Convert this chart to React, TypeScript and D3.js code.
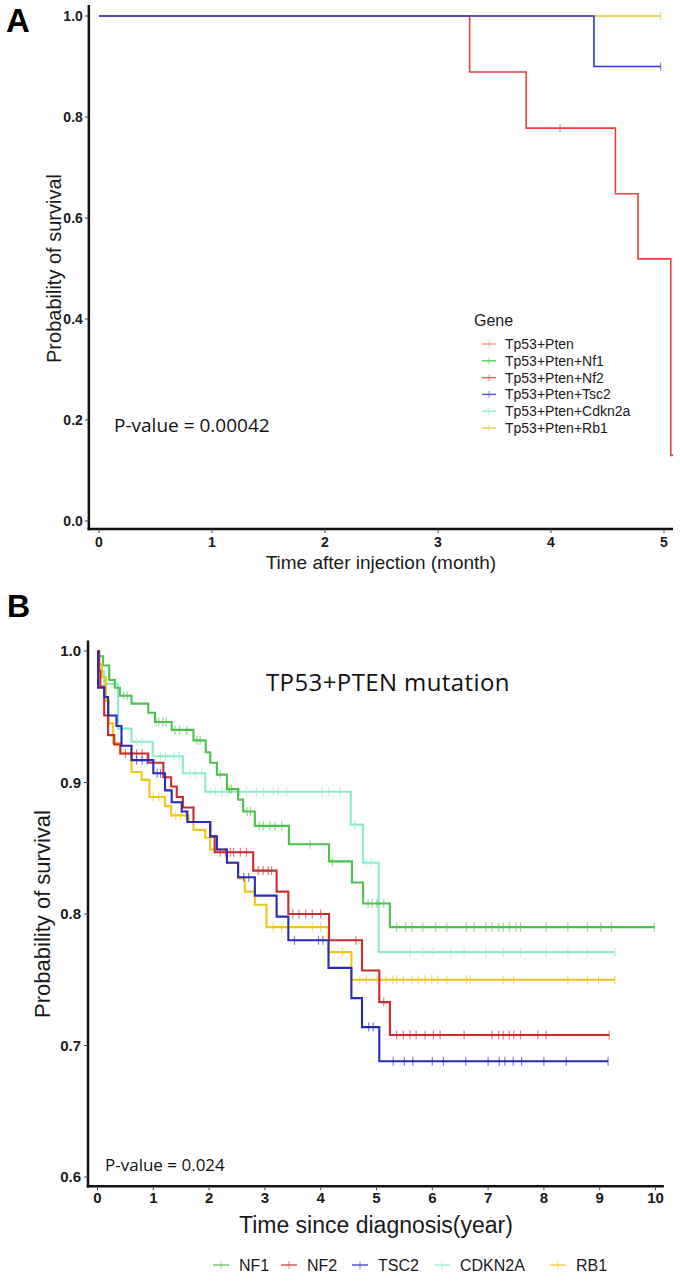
import React from 'react';
import * as d3 from 'd3';

// ---- panel A : mouse model, months after injection ----
const GENES_A = [
  "Tp53+Pten",
  "Tp53+Pten+Nf1",
  "Tp53+Pten+Nf2",
  "Tp53+Pten+Tsc2",
  "Tp53+Pten+Cdkn2a",
  "Tp53+Pten+Rb1",
];
const COLORS_A = ["#F4846A", "#3DCB3D", "#E8403F", "#3434D6", "#6FF2C6", "#E3C72E"];

// [time, survival after drop]
const A_NF2_STEPS = [[3.28, 0.889], [3.78, 0.778], [4.57, 0.648], [4.77, 0.519], [5.06, 0.13]];
const A_NF2_CENSOR = [4.08];
const A_NF2_END = 5.1;
const A_TSC2_STEPS = [[4.38, 0.9]];
const A_TSC2_CENSOR = [4.97];
const A_TSC2_END = 4.97;
const A_RB1_STEPS: number[][] = [];
const A_RB1_CENSOR = [4.97];
const A_RB1_END = 4.97;

const A_X_TICKS = [0, 1, 2, 3, 4, 5];
const A_Y_TICKS = [0, 0.2, 0.4, 0.6, 0.8, 1.0];

// ---- panel B : patients, years since diagnosis ----
const GENES_B = ["NF1", "NF2", "TSC2", "CDKN2A", "RB1"];
const COLORS_B = ["#4CC24C", "#CC2B2B", "#2A2AB8", "#8DEBD2", "#F0C618"];

const B_NF1_STEPS = [[0.02, 0.996], [0.10, 0.989], [0.21, 0.978], [0.31, 0.972], [0.40, 0.966], [0.61, 0.960], [0.91, 0.953], [1.03, 0.946], [1.33, 0.940], [1.72, 0.932], [1.94, 0.923], [2.02, 0.915], [2.14, 0.906], [2.32, 0.895], [2.52, 0.887], [2.61, 0.878], [2.82, 0.867], [3.43, 0.853], [4.15, 0.840], [4.56, 0.824], [4.76, 0.808], [5.24, 0.790]];
const B_NF1_CENSOR = [0.47, 0.53, 1.05, 1.1, 1.17, 1.23, 1.39, 1.47, 1.6, 1.78, 1.84, 2.2, 2.36, 2.4, 2.68, 2.74, 2.9, 2.97, 3.09, 3.18, 3.3, 3.81, 4.21, 4.85, 4.92, 5.01, 5.13, 5.36, 5.52, 5.64, 5.83, 6.06, 6.26, 6.61, 6.75, 6.96, 7.07, 7.19, 7.27, 7.38, 7.5, 7.58, 8.04, 8.43, 8.78, 9.02, 9.21, 9.98];
const B_NF1_END = 9.98;

const B_NF2_STEPS = [[0.03, 0.985], [0.05, 0.973], [0.12, 0.951], [0.19, 0.936], [0.30, 0.929], [0.41, 0.922], [0.91, 0.915], [1.18, 0.904], [1.32, 0.897], [1.42, 0.889], [1.53, 0.881], [1.72, 0.870], [2.02, 0.859], [2.10, 0.847], [2.79, 0.833], [3.21, 0.817], [3.42, 0.800], [4.15, 0.780], [4.74, 0.757], [5.05, 0.733], [5.24, 0.708]];
const B_NF2_CENSOR = [0.5, 0.6, 0.7, 0.8, 2.2, 2.29, 2.38, 2.44, 2.56, 2.67, 2.88, 2.97, 3.06, 3.12, 3.5, 3.61, 3.73, 3.85, 4.0, 4.63, 5.13, 5.36, 5.48, 5.6, 5.71, 5.87, 6.02, 6.14, 6.57, 7.07, 7.19, 7.27, 7.38, 7.46, 7.58, 7.89, 8.04, 9.17];
const B_NF2_END = 9.17;

const B_TSC2_STEPS = [[0.01, 0.972], [0.12, 0.965], [0.19, 0.951], [0.34, 0.943], [0.43, 0.928], [0.61, 0.917], [1.0, 0.907], [1.21, 0.894], [1.33, 0.885], [1.51, 0.878], [1.61, 0.870], [2.02, 0.859], [2.14, 0.849], [2.32, 0.839], [2.52, 0.828], [2.82, 0.814], [3.21, 0.798], [3.42, 0.780], [4.14, 0.759], [4.55, 0.736], [4.74, 0.714], [5.05, 0.688]];
const B_TSC2_CENSOR = [0.7, 0.8, 0.89, 1.07, 1.13, 2.62, 2.71, 3.53, 3.96, 4.04, 4.86, 4.94, 5.3, 5.5, 5.65, 6.0, 6.2, 6.6, 7.0, 7.2, 7.3, 7.45, 7.6, 8.0, 8.4, 9.15];
const B_TSC2_END = 9.15;

const B_CDKN2A_STEPS = [[0.03, 0.985], [0.12, 0.975], [0.37, 0.941], [0.61, 0.931], [0.99, 0.920], [1.53, 0.907], [1.93, 0.893], [4.54, 0.868], [4.76, 0.839], [5.04, 0.771]];
const B_CDKN2A_CENSOR = [0.7, 0.8, 1.13, 1.22, 1.37, 1.46, 1.66, 1.75, 1.87, 2.02, 2.11, 2.23, 2.32, 2.55, 2.67, 2.85, 2.97, 3.15, 3.24, 3.39, 4.02, 4.14, 4.35, 4.61, 4.82, 4.91, 5.6, 5.83, 6.02, 6.33, 6.57, 6.96, 7.27, 7.58, 8.04, 8.43, 8.78, 9.27];
const B_CDKN2A_END = 9.27;

const B_RB1_STEPS = [[0.02, 0.99], [0.08, 0.98], [0.15, 0.962], [0.2, 0.945], [0.28, 0.930], [0.40, 0.922], [0.61, 0.908], [0.79, 0.902], [0.93, 0.889], [1.21, 0.882], [1.32, 0.875], [1.63, 0.870], [1.72, 0.864], [1.93, 0.858], [2.02, 0.849], [2.32, 0.839], [2.52, 0.827], [2.64, 0.817], [2.82, 0.807], [3.03, 0.790], [4.14, 0.771], [4.55, 0.750]];
const B_RB1_CENSOR = [1.0, 1.1, 1.4, 1.49, 1.58, 3.15, 3.3, 3.85, 4.0, 4.39, 4.7, 4.82, 5.01, 5.17, 5.29, 5.36, 5.48, 5.64, 5.75, 5.87, 5.99, 6.1, 6.26, 6.61, 6.68, 7.27, 7.46, 8.43, 8.78, 8.98, 9.27];
const B_RB1_END = 9.27;

const B_X_TICKS = [0, 1, 2, 3, 4, 5, 6, 7, 8, 9, 10];
const B_Y_TICKS = [0.6, 0.7, 0.8, 0.9, 1.0];

const SANS = "'Liberation Sans', Arial, sans-serif";
const SOFT = "'Open Sans', 'Noto Sans', sans-serif";

type Curve = { steps: number[][]; censor: number[]; end: number; color: string };

function survAt(steps: number[][], t: number) {
  let s = 1;
  steps.forEach(d => { if (d[0] <= t) s = d[1]; });
  return s;
}

function stepPoints(c: Curve) {
  const pts: number[][] = [[0, 1], ...c.steps];
  pts.push([c.end, survAt(c.steps, c.end)]);
  return pts;
}

function KMCurves({ curves, x, y, width, tick }: any) {
  const line = d3.line<number[]>()
    .x(d => x(d[0]))
    .y(d => y(d[1]))
    .curve(d3.curveStepAfter);
  return (
    <g>
      {curves.map((c: Curve, i: number) => (
        <g key={'c' + i}>
          <path d={line(stepPoints(c)) || ''} fill="none" stroke={c.color} strokeWidth={width} />
          {c.censor.map((t, j) => {
            const cx = x(t);
            const cy = y(survAt(c.steps, t));
            return <line key={j} x1={cx} x2={cx} y1={cy - tick} y2={cy + tick}
              stroke={c.color} strokeWidth={1.2} strokeOpacity={0.6} />;
          })}
        </g>
      ))}
    </g>
  );
}

function PanelA() {
  const x = d3.scaleLinear().domain([0, 5]).range([99, 664]);
  const y = d3.scaleLinear().domain([0, 1]).range([521, 16]);
  const x0 = x(-0.09), x1 = x(5.08);
  const y0 = y(-0.016), y1 = y(1.022);
  const curves: Curve[] = [
    { steps: A_RB1_STEPS, censor: A_RB1_CENSOR, end: A_RB1_END, color: COLORS_A[5] },
    { steps: A_NF2_STEPS, censor: A_NF2_CENSOR, end: A_NF2_END, color: COLORS_A[2] },
    { steps: A_TSC2_STEPS, censor: A_TSC2_CENSOR, end: A_TSC2_END, color: COLORS_A[3] },
  ];
  return (
    <g>
      <defs>
        <clipPath id="clipA"><rect x={x0} y={0} width={x1 - x0} height={y0} /></clipPath>
      </defs>
      <text x={6} y={32} fontFamily={SANS} fontWeight="bold" fontSize={33}>A</text>
      <g clipPath="url(#clipA)">
        <KMCurves curves={curves} x={x} y={y} width={1.6} tick={4} />
      </g>
      {/* axes */}
      <line x1={x0} x2={x0} y1={y1} y2={y0 + 1.2} stroke="#111" strokeWidth={2.5} />
      <line x1={x0 - 1.2} x2={x1} y1={y0} y2={y0} stroke="#111" strokeWidth={2.5} />
      {A_Y_TICKS.map(v => (
        <g key={'ya' + v}>
          <line x1={x0 - 4} x2={x0} y1={y(v)} y2={y(v)} stroke="#444" strokeWidth={1} />
          <text x={x0 - 6} y={y(v)} dy="0.36em" textAnchor="end" fontFamily={SANS}
            fontWeight="bold" fontSize={14} fill="#1a1a1a">{d3.format('.1f')(v)}</text>
        </g>
      ))}
      {A_X_TICKS.map(v => (
        <g key={'xa' + v}>
          <line x1={x(v)} x2={x(v)} y1={y0} y2={y0 + 4} stroke="#444" strokeWidth={1} />
          <text x={x(v)} y={y0 + 13} dy="0.36em" textAnchor="middle" fontFamily={SANS}
            fontWeight="bold" fontSize={14} fill="#1a1a1a">{v}</text>
        </g>
      ))}
      <text x={(x0 + x1) / 2} y={569} textAnchor="middle" fontFamily={SANS} fontSize={19}
        fill="#1a1a1a">Time after injection (month)</text>
      <text transform={`translate(61,${(y(0) + y(1)) / 2})rotate(-90)`} textAnchor="middle"
        fontFamily={SANS} fontSize={20} fill="#1a1a1a">Probability of survival</text>
      <text x={114} y={425} dy="0.36em" fontFamily={SOFT} fontSize={19} fill="#111">P-value = 0.00042</text>
      {/* legend */}
      <text x={474} y={326} fontFamily={SANS} fontSize={16} fill="#1a1a1a">Gene</text>
      {GENES_A.map((g, i) => {
        const ly = 344 + i * 16.8;
        return (
          <g key={g}>
            <line x1={482} x2={496} y1={ly} y2={ly} stroke={COLORS_A[i]} strokeWidth={1.4} strokeOpacity={0.85} />
            <line x1={489} x2={489} y1={ly - 3.5} y2={ly + 3.5} stroke={COLORS_A[i]} strokeWidth={1} strokeOpacity={0.6} />
            <text x={505} y={ly} dy="0.36em" fontFamily={SANS} fontSize={14} fill="#1a1a1a">{g}</text>
          </g>
        );
      })}
    </g>
  );
}

function PanelB() {
  const x = d3.scaleLinear().domain([0, 10]).range([97.5, 655.5]);
  const y = d3.scaleLinear().domain([0.6, 1]).range([1177, 651]);
  const x0 = x(-0.17), x1 = x(10.15);
  const y0 = y(0.593), y1 = y(1.008);
  const curves: Curve[] = [
    { steps: B_CDKN2A_STEPS, censor: B_CDKN2A_CENSOR, end: B_CDKN2A_END, color: COLORS_B[3] },
    { steps: B_NF1_STEPS, censor: B_NF1_CENSOR, end: B_NF1_END, color: COLORS_B[0] },
    { steps: B_RB1_STEPS, censor: B_RB1_CENSOR, end: B_RB1_END, color: COLORS_B[4] },
    { steps: B_NF2_STEPS, censor: B_NF2_CENSOR, end: B_NF2_END, color: COLORS_B[1] },
    { steps: B_TSC2_STEPS, censor: B_TSC2_CENSOR, end: B_TSC2_END, color: COLORS_B[2] },
  ];
  const legendX = [213, 281, 352, 434, 550];
  return (
    <g>
      <text x={7} y={617} fontFamily={SANS} fontWeight="bold" fontSize={32}>B</text>
      <KMCurves curves={curves} x={x} y={y} width={2.1} tick={4.5} />
      <line x1={x0} x2={x0} y1={y1} y2={y0 + 1.2} stroke="#111" strokeWidth={2.5} />
      <line x1={x0 - 1.2} x2={x1} y1={y0} y2={y0} stroke="#111" strokeWidth={2.5} />
      {B_Y_TICKS.map(v => (
        <g key={'yb' + v}>
          <line x1={x0 - 4} x2={x0} y1={y(v)} y2={y(v)} stroke="#444" strokeWidth={1} />
          <text x={x0 - 7} y={y(v)} dy="0.36em" textAnchor="end" fontFamily={SANS}
            fontWeight="bold" fontSize={15} fill="#1a1a1a">{d3.format('.1f')(v)}</text>
        </g>
      ))}
      {B_X_TICKS.map(v => (
        <g key={'xb' + v}>
          <line x1={x(v)} x2={x(v)} y1={y0} y2={y0 + 4} stroke="#444" strokeWidth={1} />
          <text x={x(v)} y={1198} dy="0.36em" textAnchor="middle" fontFamily={SANS}
            fontWeight="bold" fontSize={15} fill="#1a1a1a">{v}</text>
        </g>
      ))}
      <text x={(x0 + x1) / 2} y={1233} textAnchor="middle" fontFamily={SANS} fontSize={23}
        fill="#1a1a1a">Time since diagnosis(year)</text>
      <text transform={`translate(50,${(y(0.6) + y(1)) / 2})rotate(-90)`} textAnchor="middle"
        fontFamily={SANS} fontSize={22} fill="#1a1a1a">Probability of survival</text>
      <text x={266} y={682} dy="0.36em" fontFamily={SOFT} fontSize={24} letterSpacing={0.4}
        fill="#111">TP53+PTEN  mutation</text>
      <text x={105} y={1165} dy="0.36em" fontFamily={SOFT} fontSize={17} fill="#111">P-value = 0.024</text>
      {GENES_B.map((g, i) => {
        const lx = legendX[i];
        const ly = 1265;
        return (
          <g key={g}>
            <line x1={lx} x2={lx + 16} y1={ly} y2={ly} stroke={COLORS_B[i]} strokeWidth={1.4} strokeOpacity={0.85} />
            <line x1={lx + 8} x2={lx + 8} y1={ly - 4} y2={ly + 4} stroke={COLORS_B[i]} strokeWidth={1} strokeOpacity={0.6} />
            <text x={lx + 26} y={ly} dy="0.36em" fontFamily={SANS} fontSize={16} fill="#1a1a1a">{g}</text>
          </g>
        );
      })}
    </g>
  );
}

export default function App() {
  return (
    <svg width={680} height={1284} style={{ position: 'absolute', left: 0, top: 0, background: '#fff' }}>
      <rect width={680} height={1284} fill="#fff" />
      <PanelA />
      <PanelB />
    </svg>
  );
}
